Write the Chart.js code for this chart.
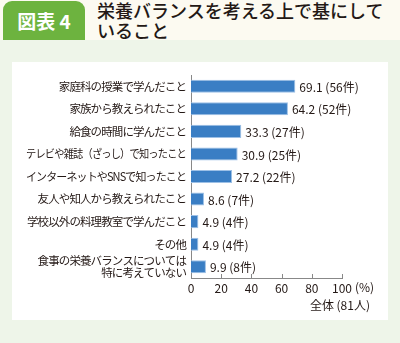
<!DOCTYPE html>
<html>
<head>
<meta charset="utf-8">
<script src="https://cdn.jsdelivr.net/npm/chart.js@4/dist/chart.umd.min.js"></script>
<style>
  html, body { margin: 0; padding: 0; }
  body {
    width: 400px; height: 343px; overflow: hidden; position: relative;
    background: #eef5e9;
    font-family: "Noto Sans CJK JP", "Noto Sans", sans-serif;
  }
  #head { position: absolute; left: 0; top: 0; width: 400px; height: 40px; background: #fcfaf1; }
  #tab {
    position: absolute; left: 3px; top: 1px; width: 82px; height: 39px;
    background: #6db33f; border-radius: 9px 9px 0 0;
    color: #fff; font-weight: bold; font-size: 19px; line-height: 39px; text-align: center;
  }
  #title {
    position: absolute; left: 97px; top: 0px; width: 300px;
    font-size: 18px; line-height: 20px; font-weight: 500; color: #231815;
  }
  #panel { position: absolute; left: 12px; top: 62px; width: 376px; height: 258px; background: #fff; }
</style>
</head>
<body>
<div id="head">
  <div id="tab">図表 4</div>
  <div id="title">栄養バランスを考える上で基にして<br>いること</div>
</div>
<div id="panel"><canvas id="grafico" width="376" height="258"></canvas></div>
<script>
// 項目
const categorias = [
    "家庭科の授業で学んだこと",
    "家族から教えられたこと",
    "給食の時間に学んだこと",
    "テレビや雑誌（ざっし）で知ったこと",
    "インターネットやSNSで知ったこと",
    "友人や知人から教えられたこと",
    "学校以外の料理教室で学んだこと",
    "その他",
    ["食事の栄養バランスについては", "特に考えていない"]
];
// 割合 (%)
const porcentagens = [69.1, 64.2, 33.3, 30.9, 27.2, 8.6, 4.9, 4.9, 9.9];
// 件数
const contagens = [56, 52, 27, 25, 22, 7, 4, 4, 8];
const ticksX = [0, 20, 40, 60, 80, 100];

const corTexto = '#231815';

// 項目名・値ラベル・目盛り・単位
const rotulos = {
    id: 'rotulos',
    afterDatasetsDraw(chart) {
        const ctx = chart.ctx;
        const meta = chart.getDatasetMeta(0);
        const y = chart.scales.y;
        const x = chart.scales.x;
        ctx.save();
        ctx.fillStyle = corTexto;

        // 項目名（詰め気味、長いものは幅を制限）
        ctx.font = '11.5px "Noto Sans CJK JP"';
        ctx.letterSpacing = '-0.9px';
        ctx.textAlign = 'right';
        ctx.textBaseline = 'middle';
        categorias.forEach((c, i) => {
            const py = y.getPixelForTick(i);
            const linhas = Array.isArray(c) ? c : [c];
            linhas.forEach((l, k) => {
                const dy = (k - (linhas.length - 1) / 2) * 12;
                ctx.fillText(l, x.left - 5, py + dy, 160);
            });
        });

        // 値ラベル
        ctx.letterSpacing = '0px';
        ctx.font = '12px "Noto Sans CJK JP"';
        ctx.textAlign = 'left';
        meta.data.forEach((bar, i) => {
            ctx.fillText(porcentagens[i].toFixed(1) + ' (' + contagens[i] + '件)', bar.x + 4, bar.y + 1);
        });

        // 上向きの目盛り
        ctx.strokeStyle = '#888';
        ctx.lineWidth = 1;
        ticksX.forEach(v => {
            const px = Math.round(x.getPixelForValue(v)) + 0.5;
            ctx.beginPath();
            ctx.moveTo(px, x.top);
            ctx.lineTo(px, x.top - 4);
            ctx.stroke();
        });
        ctx.fillText('(%)', x.getPixelForValue(100) + 13, x.top + 9);
        ctx.textAlign = 'right';
        ctx.fillText('全体 (81人)', x.getPixelForValue(100) + 28, x.top + 27);
        ctx.restore();
    }
};

const grafico = new Chart(
    document.getElementById('grafico'),
    {
        type: 'bar',
        data: {
            labels: categorias,
            datasets: [{
                data: porcentagens,
                backgroundColor: '#3a7ec4',
                borderColor: '#9dc0e6',
                borderWidth: 1,
                barPercentage: 0.58,
                categoryPercentage: 1
            }]
        },
        options: {
            indexAxis: 'y',
            responsive: false,
            animation: false,
            layout: { padding: { left: 0, right: 46, top: 13, bottom: 0 } },
            plugins: { legend: { display: false }, tooltip: { enabled: false } },
            scales: {
                x: {
                    min: 0, max: 100,
                    afterBuildTicks(scale) { scale.ticks = ticksX.map(v => ({ value: v })); },
                    afterFit(scale) { scale.height = 42; },
                    grid: { display: false, drawTicks: false },
                    border: { color: '#888', width: 1 },
                    ticks: { color: corTexto, padding: 3, font: { size: 12, family: '"Noto Sans CJK JP"' } }
                },
                y: {
                    afterFit(scale) { scale.width = 179; },
                    grid: { display: false, drawTicks: false },
                    border: { color: '#888', width: 1 },
                    ticks: { display: false, autoSkip: false }
                }
            }
        },
        plugins: [rotulos]
    }
);
</script>
</body>
</html>
